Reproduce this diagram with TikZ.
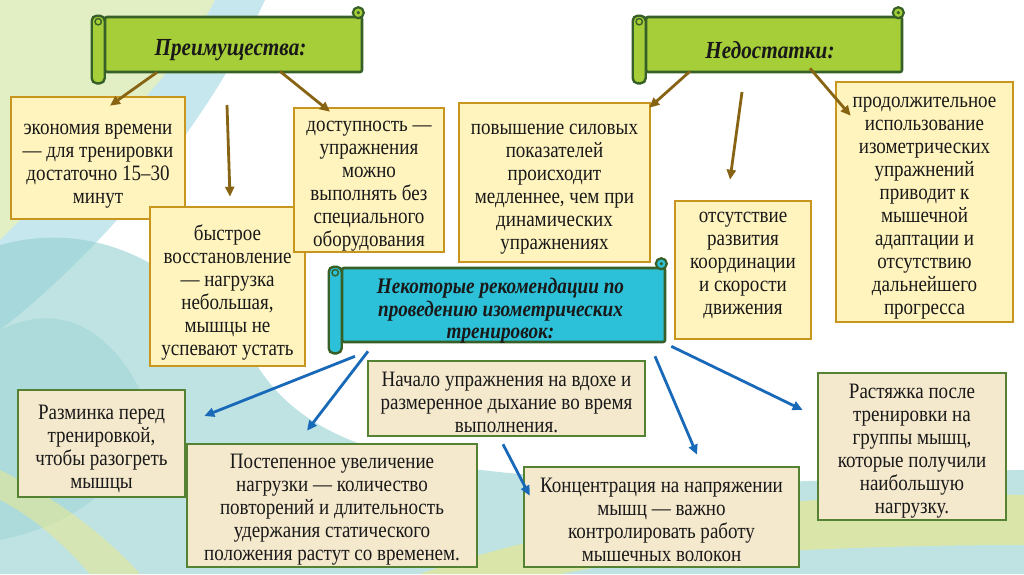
\documentclass[tikz,border=0pt]{standalone}
\usepackage{fontspec}
\setmainfont{Liberation Serif}[FakeStretch=0.865]
\usetikzlibrary{arrows.meta,calc}
\definecolor{bannergreen}{RGB}{166,206,57}
\definecolor{bannerdark}{RGB}{55,95,40}
\definecolor{bannercyan}{RGB}{44,193,216}
\definecolor{ygold}{RGB}{200,150,30}
\definecolor{yfill}{RGB}{255,243,190}
\definecolor{gborder}{RGB}{85,130,50}
\definecolor{gfill}{RGB}{245,233,205}
\definecolor{brownarrow}{RGB}{135,100,20}
\definecolor{bluearrow}{RGB}{25,105,185}
\definecolor{txt}{RGB}{25,25,25}
\definecolor{bgyg}{RGB}{222,236,185}
\definecolor{bgcyan}{RGB}{185,225,235}
\definecolor{bgteal}{RGB}{140,205,205}
\definecolor{bgyellow}{RGB}{228,232,150}
\begin{document}
\begin{tikzpicture}[x=1pt,y=-1pt,
  ybox/.style={draw=ygold,fill=yfill,line width=2.6pt,inner sep=0pt},
  gbox/.style={draw=gborder,fill=gfill,line width=2.6pt,inner sep=0pt},
  boxtext/.style={inner sep=0pt,align=center,font=\fontsize{22}{23}\selectfont,text=txt},
  banner/.style={draw=bannerdark,line width=2.6pt,rounded corners=2pt,inner sep=0pt},
  bannertext/.style={inner sep=0pt,align=center,font=\bfseries\itshape\fontsize{24.5}{23}\selectfont,text=txt},
  roll/.style={draw=bannerdark,line width=2.4pt,rounded corners=5pt},
  curl/.style={draw=bannerdark,line width=2.2pt},
  brownarr/.style={draw=brownarrow,line width=2.8pt,-{Triangle[length=10pt,width=9pt]}},
  bluearr/.style={draw=bluearrow,line width=2.8pt,-{Triangle[length=10pt,width=9pt]}},
]
\useasboundingbox (0,0) rectangle (1024,574);
% background
\fill[white] (0,0) rectangle (1024,574);
\fill[bgyg,opacity=.85] (0,0) -- (215,0) .. controls (170,90) and (70,170) .. (0,240) -- cycle;
\fill[bgcyan,opacity=.8] (215,0) -- (265,0) .. controls (200,140) and (90,260) .. (0,330) -- (0,240) .. controls (70,170) and (170,90) .. (215,0) -- cycle;
\fill[bgteal,opacity=.55] (0,245) .. controls (110,215) and (200,280) .. (260,370) .. controls (320,460) and (450,470) .. (600,480) .. controls (800,490) and (950,470) .. (1024,470) -- (1024,574) -- (0,574) -- cycle;
\fill[bgteal,opacity=.35] (0,330) .. controls (60,300) and (110,330) .. (140,390) .. controls (160,450) and (100,520) .. (0,540) -- cycle;
\fill[bgyellow,opacity=.75] (420,574) .. controls (600,510) and (850,490) .. (1024,495) -- (1024,545) .. controls (850,545) and (650,555) .. (560,574) -- cycle;
\fill[bgyellow,opacity=.6] (0,470) .. controls (60,500) and (110,540) .. (140,574) -- (90,574) .. controls (60,540) and (30,515) .. (0,500) -- cycle;

% advantages boxes
\node[ybox,minimum width=174pt,minimum height=122pt] (eco) at (98,158) {};
\node[boxtext] (ecoT) at ($(eco.center)+(0,8)$)
  {экономия времени\\— для тренировки\\достаточно 15–30\\минут};
\node[ybox,minimum width=155pt,minimum height=159pt] (bys) at (227.5,286.5) {};
\node[boxtext] (bysT) at ($(bys.center)+(0,5.5)$)
  {быстрое\\восстановление\\— нагрузка\\небольшая,\\мышцы не\\успевают устать};
\node[ybox,minimum width=150pt,minimum height=144pt] (dost) at (369,180) {};
\node[boxtext] (dostT) at ($(dost.center)+(0,6.5)$)
  {доступность —\\упражнения\\можно\\выполнять без\\специального\\оборудования};
% disadvantages boxes
\node[ybox,minimum width=191pt,minimum height=159pt] (pov) at (554.5,182.5) {};
\node[boxtext] (povT) at ($(pov.center)+(0,7)$)
  {повышение силовых\\показателей\\происходит\\медленнее, чем при\\динамических\\упражнениях};
\node[ybox,minimum width=136pt,minimum height=138pt] (otsut) at (743,270) {};
\node[boxtext] (otsutT) at ($(otsut.center)+(0,-5)$)
  {отсутствие\\развития\\координации\\и скорости\\движения};
\node[ybox,minimum width=177pt,minimum height=240pt] (prod) at (924.5,202) {};
\node[boxtext] (prodT) at ($(prod.center)+(0,6.5)$)
  {продолжительное\\использование\\изометрических\\упражнений\\приводит к\\мышечной\\адаптации и\\отсутствию\\дальнейшего\\прогресса};

% banner: advantages
\node[banner,fill=bannergreen,minimum width=257pt,minimum height=55pt] (pro) at (233.5,44.5) {};
\node[bannertext] (proT) at ($(pro.center)+(-3,6)$) {Преимущества:};
\filldraw[roll,fill=bannergreen] ($(pro.north west)+(-12,0)$) rectangle ($(pro.south west)+(1,10)$);
\draw[bannerdark,line width=1.4pt] ($(pro.north west)+(-5.5,6)$) circle (3.2);
\filldraw[curl,fill=bannergreen] ($(pro.north east)+(-5,-3)$) circle (5.5);
\fill[bannerdark] ($(pro.north east)+(-5,-3)$) circle (1.8);

% banner: disadvantages
\node[banner,fill=bannergreen,minimum width=256pt,minimum height=55pt] (nedo) at (774,44.5) {};
\node[bannertext] (nedoT) at ($(nedo.center)+(-4,6)$) {Недостатки:};
\filldraw[roll,fill=bannergreen] ($(nedo.north west)+(-12,0)$) rectangle ($(nedo.south west)+(1,10)$);
\draw[bannerdark,line width=1.4pt] ($(nedo.north west)+(-5.5,6)$) circle (3.2);
\filldraw[curl,fill=bannergreen] ($(nedo.north east)+(-5,-3)$) circle (5.5);
\fill[bannerdark] ($(nedo.north east)+(-5,-3)$) circle (1.8);

% banner: recommendations
\node[banner,fill=bannercyan,minimum width=323pt,minimum height=74pt] (rec) at (503.5,305) {};
\node[bannertext,font=\bfseries\itshape\fontsize{22.2}{22.5}\selectfont] (recT) at ($(rec.center)+(-3,6)$)
  {Некоторые рекомендации по\\проведению изометрических\\тренировок:};
\filldraw[roll,fill=bannercyan] ($(rec.north west)+(-12,0)$) rectangle ($(rec.south west)+(1,10)$);
\draw[bannerdark,line width=1.4pt] ($(rec.north west)+(-5.5,6)$) circle (3.2);
\filldraw[curl,fill=bannercyan] ($(rec.north east)+(-5,-3)$) circle (5.5);
\fill[bannerdark] ($(rec.north east)+(-5,-3)$) circle (1.8);

% recommendation boxes
\node[gbox,minimum width=277pt,minimum height=75pt] (nach) at (506.5,398.5) {};
\node[boxtext] (nachT) at ($(nach.center)+(0,4)$)
  {Начало упражнения на вдохе и\\размеренное дыхание во время\\выполнения.};
\node[gbox,minimum width=167pt,minimum height=107pt] (razm) at (101.5,443.5) {};
\node[boxtext] (razmT) at ($(razm.center)+(0,5)$)
  {Разминка перед\\тренировкой,\\чтобы разогреть\\мышцы};
\node[gbox,minimum width=290pt,minimum height=123pt] (post) at (332,505.5) {};
\node[boxtext] (postT) at ($(post.center)+(0,4)$)
  {Постепенное увеличение\\нагрузки — количество\\повторений и длительность\\удержания статического\\положения растут со временем.};
\node[gbox,minimum width=275pt,minimum height=100pt] (konc) at (661.5,517) {};
\node[boxtext] (koncT) at ($(konc.center)+(0,3)$)
  {Концентрация на напряжении\\мышц — важно\\контролировать работу\\мышечных волокон};
\node[gbox,minimum width=188pt,minimum height=147pt] (rast) at (912,446.5) {};
\node[boxtext] (rastT) at ($(rast.center)+(0,4.5)$)
  {Растяжка после\\тренировки на\\группы мышц,\\которые получили\\наибольшую\\нагрузку.};

% brown arrows
\coordinate (p3) at (227,105);
\coordinate (n2) at (742,92);
\draw[brownarr] ($(pro.south)+(-76.5,-1)$) -- ($(eco.north)+(12,10)$);
\draw[brownarr] ($(pro.south)+(46.5,-2)$) -- ($(dost.north)+(-39,5)$);
\draw[brownarr] (p3) -- ($(bys.north)+(2.5,-9)$);
\draw[brownarr] ($(nedo.south)+(-84,-2)$) -- ($(pov.north east)+(-2,6)$);
\draw[brownarr] (n2) -- ($(otsut.north)+(-13,-20)$);
\draw[brownarr] ($(nedo.south)+(36,-5)$) -- ($(prod.north west)+(16,35)$);

% blue arrows
\draw[bluearr] ($(rec.south)+(-148.5,13)$) -- ($(razm.east)+(18,-27.5)$);
\draw[bluearr] ($(rec.south)+(-135.5,8)$) -- ($(post.north)+(-25,-12)$);
\draw[bluearr] ($(nach.south)+(-3.5,7)$) -- ($(konc.north west)+(7,30)$);
\draw[bluearr] ($(rec.south)+(151.5,13)$) -- ($(konc.north)+(35.5,-11)$);
\draw[bluearr] ($(rec.south east)+(5,3)$) -- ($(rast.west)+(-14,-36.5)$);
\end{tikzpicture}
\end{document}
